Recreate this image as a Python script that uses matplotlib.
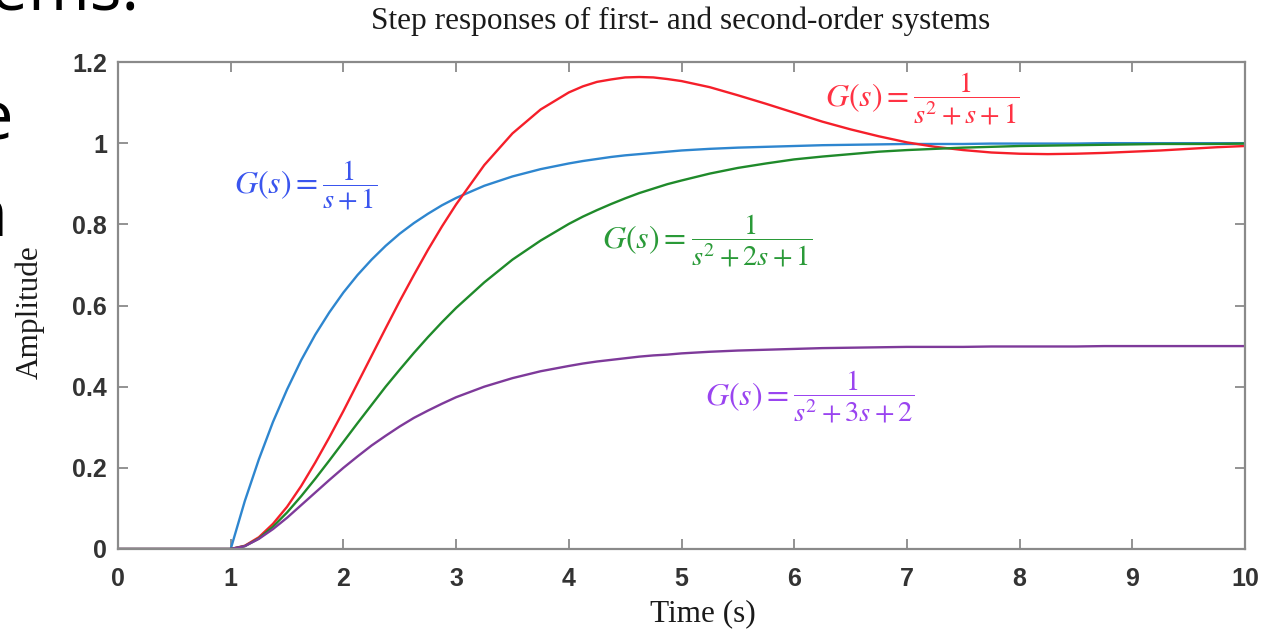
import matplotlib
matplotlib.use("Agg")
import matplotlib.pyplot as plt

# ── Data ──
time_s = [0, 1, 1.125, 1.25, 1.375, 1.5, 1.625, 1.75, 1.875, 2, 2.125, 2.25,
          2.375, 2.5, 2.625, 2.75, 2.875, 3, 3.25, 3.5, 3.75, 4, 4.125, 4.25,
          4.375, 4.5, 4.625, 4.75, 4.875, 5, 5.25, 5.5, 5.75, 6, 6.25, 6.5,
          6.75, 7, 7.25, 7.5, 7.75, 8, 8.25, 8.5, 8.75, 9, 9.25, 9.5, 9.75, 10]

# G(s) = 1/(s+1)
first_order = [0, 0, .118, .221, .313, .393, .465, .528, .583, .632, .675, .713,
               .747, .777, .803, .826, .847, .865, .895, .918, .936, .950, .956,
               .961, .966, .970, .973, .976, .979, .982, .986, .989, .991, .993,
               .995, .996, .997, .998, .998, .998, .999, .999, .999, .999, 1.0,
               1.0, 1.0, 1.0, 1.0, 1.0]
# G(s) = 1/(s^2+s+1)
underdamped = [0, 0, .008, .029, .062, .104, .155, .213, .275, .340, .408, .476,
               .544, .611, .675, .737, .795, .849, .946, 1.024, 1.083, 1.125,
               1.140, 1.151, 1.157, 1.162, 1.163, 1.162, 1.158, 1.153, 1.138,
               1.118, 1.097, 1.075, 1.053, 1.034, 1.017, 1.002, .991, .983,
               .977, .974, .973, .974, .976, .979, .982, .986, .990, .993]
# G(s) = 1/(s^2+2s+1)
critical = [0, 0, .007, .026, .055, .090, .130, .173, .218, .264, .310, .355,
            .400, .442, .483, .522, .559, .594, .657, .713, .760, .801, .819,
            .835, .850, .864, .877, .888, .899, .908, .925, .939, .950, .960,
            .967, .973, .979, .983, .986, .989, .991, .993, .994, .995, .996,
            .997, .998, .998, .998, .999]
# G(s) = 1/(s^2+3s+2)
overdamped = [0, 0, .007, .025, .049, .077, .108, .139, .170, .200, .228, .255,
              .279, .302, .323, .341, .358, .374, .400, .421, .438, .451, .457,
              .462, .466, .470, .474, .477, .479, .482, .486, .489, .491, .493,
              .495, .496, .497, .498, .498, .498, .499, .499, .499, .499, .500,
              .500, .500, .500, .500, .500]

y_ticks = [0, 0.2, 0.4, 0.6, 0.8, 1.0, 1.2]
y_tick_labels = ["0", "0.2", "0.4", "0.6", "0.8", "1", "1.2"]
x_ticks = list(range(11))

# ── Style ──
plt.rcParams["mathtext.fontset"] = "stix"
SERIF = "Liberation Serif"
SANS = "Liberation Sans"
AXIS_GRAY = "#8a8a8a"
TEXT = "#1a1a1a"

fig = plt.figure(figsize=(12.7, 6.3), dpi=100)
ax = fig.add_axes([118 / 1270, 1 - 549 / 630, 1127 / 1270, 487 / 630])

ax.plot(time_s, first_order, color="#2e86cf", lw=1.7)
ax.plot(time_s, underdamped, color="#f51f2a", lw=1.7)
ax.plot(time_s, critical, color="#1f8a2a", lw=1.7)
ax.plot(time_s, overdamped, color="#7e3a9a", lw=1.7)

ax.set_xlim(0, 10)
ax.set_ylim(0, 1.2)
ax.set_xticks(x_ticks)
ax.set_yticks(y_ticks)
ax.set_yticklabels(y_tick_labels)
ax.tick_params(direction="in", top=True, right=True, length=7.5, width=1.3,
               color=AXIS_GRAY, labelcolor="#333333", labelsize=18)
ax.tick_params(axis="x", pad=13)
ax.tick_params(axis="y", pad=8)
for lbl in ax.get_xticklabels() + ax.get_yticklabels():
    lbl.set_fontfamily(SANS)
    lbl.set_fontweight("bold")
for sp in ax.spines.values():
    sp.set_color(AXIS_GRAY)
    sp.set_linewidth(1.6)

# titles / labels
fig.text(681 / 1270, 1 - 21 / 630, "Step responses of first- and second-order systems",
         ha="center", va="center", fontsize=22.5, family=SERIF, color=TEXT)
fig.text(703 / 1270, 1 - 614 / 630, "Time (s)", ha="center", va="center",
         fontsize=22.5, family=SERIF, color=TEXT)
fig.text(30 / 1270, 1 - 312 / 630, "Amplitude", ha="center", va="center",
         rotation=90, fontsize=22.5, family=SERIF, color=TEXT)


def transfer_label(x, y, den, color):
    """'G(s) =' left of a fraction whose bar starts at (x, y)."""
    ax.annotate(r"$G(s)=$", (x, y), xytext=(-3, 0), textcoords="offset points",
                ha="right", va="center", fontsize=23, color=color)
    ax.annotate(r"$\dfrac{1}{%s}$" % den, (x, y), xytext=(0, 0),
                textcoords="offset points", ha="left", va="center",
                fontsize=20.5, color=color)


transfer_label(1.81, 0.897, "s+1", "#3a55ee")
transfer_label(7.05, 1.111, "s^2+s+1", "#ff3344")
transfer_label(5.08, 0.761, "s^2+2s+1", "#2a9a38")
transfer_label(5.99, 0.375, "s^2+3s+2", "#9a44f0")

# slide text cut off at the left edge of the screenshot
fig.text(140 / 1270, 1 - 9 / 630, "stems:", ha="right", va="baseline",
         fontsize=48, family="Open Sans", color="black")
fig.text(13 / 1270, 1 - 140 / 630, "e", ha="right", va="baseline",
         fontsize=48, family="Open Sans", color="black")
fig.text(7 / 1270, 1 - 236 / 630, "n", ha="right", va="baseline",
         fontsize=48, family="Open Sans", color="black")

fig.savefig("out.png", dpi=100)
